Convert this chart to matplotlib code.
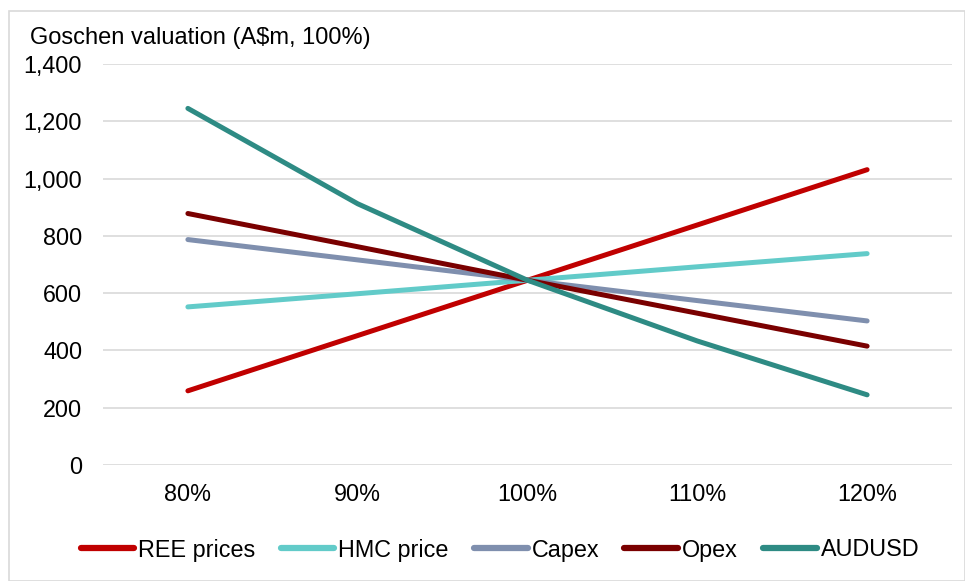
import matplotlib.pyplot as plt
from matplotlib.patches import Rectangle

# === data ===
categorias = ["80%", "90%", "100%", "110%", "120%"]
ree_prices = [259, 452, 645, 838, 1031]
hmc_price = [552, 598, 645, 692, 738]
capex = [787, 716, 645, 574, 503]
opex = [878, 762, 645, 530, 415]
audusd = [1245, 912, 645, 433, 245]

series = [
    ("REE prices", ree_prices, "#c00000"),
    ("HMC price", hmc_price, "#62cbc9"),
    ("Capex", capex, "#7f8fae"),
    ("Opex", opex, "#7a0000"),
    ("AUDUSD", audusd, "#2e8b84"),
]

plt.rcParams["font.family"] = ["Liberation Sans", "DejaVu Sans"]

fig = plt.figure(figsize=(9.65, 5.81), dpi=100)
W, H = 965, 581
ax = fig.add_axes([103 / W, 1 - 465 / H, (952 - 103) / W, (465 - 64) / H])

# marco exterior
fig.patches.append(Rectangle((9 / W, 0), 1 - 9 / W, 1 - 11 / H,
                             transform=fig.transFigure, fill=False,
                             edgecolor="#d9d9d9", linewidth=1.2))

x = range(len(categorias))
for nombre, vals, color in series:
    ax.plot(x, vals, color=color, linewidth=3.6, solid_capstyle="round",
            label=nombre)

ax.set_xlim(-0.5, 4.5)
ax.set_ylim(0, 1400)
ax.set_yticks(range(0, 1401, 200))
ax.set_yticklabels([f"{v:,}" for v in range(0, 1401, 200)])
ax.set_xticks(list(x))
ax.set_xticklabels(categorias)
ax.grid(axis="y", color="#d9d9d9", linewidth=1.2)
ax.set_axisbelow(True)
for s in ax.spines.values():
    s.set_visible(False)
ax.tick_params(length=0, labelsize=16.8, colors="black")
ax.tick_params(axis="x", pad=13)
ax.tick_params(axis="y", pad=15)

fig.text(30 / W, 1 - 38 / H, "Goschen valuation (A$m, 100%)", fontsize=17,
         va="center", ha="left")

leg = fig.legend(loc="center", bbox_to_anchor=(500 / W, 1 - 550 / H), ncol=5,
                 frameon=False, handlelength=2.3, handletextpad=0.17,
                 columnspacing=1.08, prop={"size": 16.8})
for h in leg.get_lines():
    h.set_linewidth(4.5)

fig.savefig("out.png", dpi=100)
